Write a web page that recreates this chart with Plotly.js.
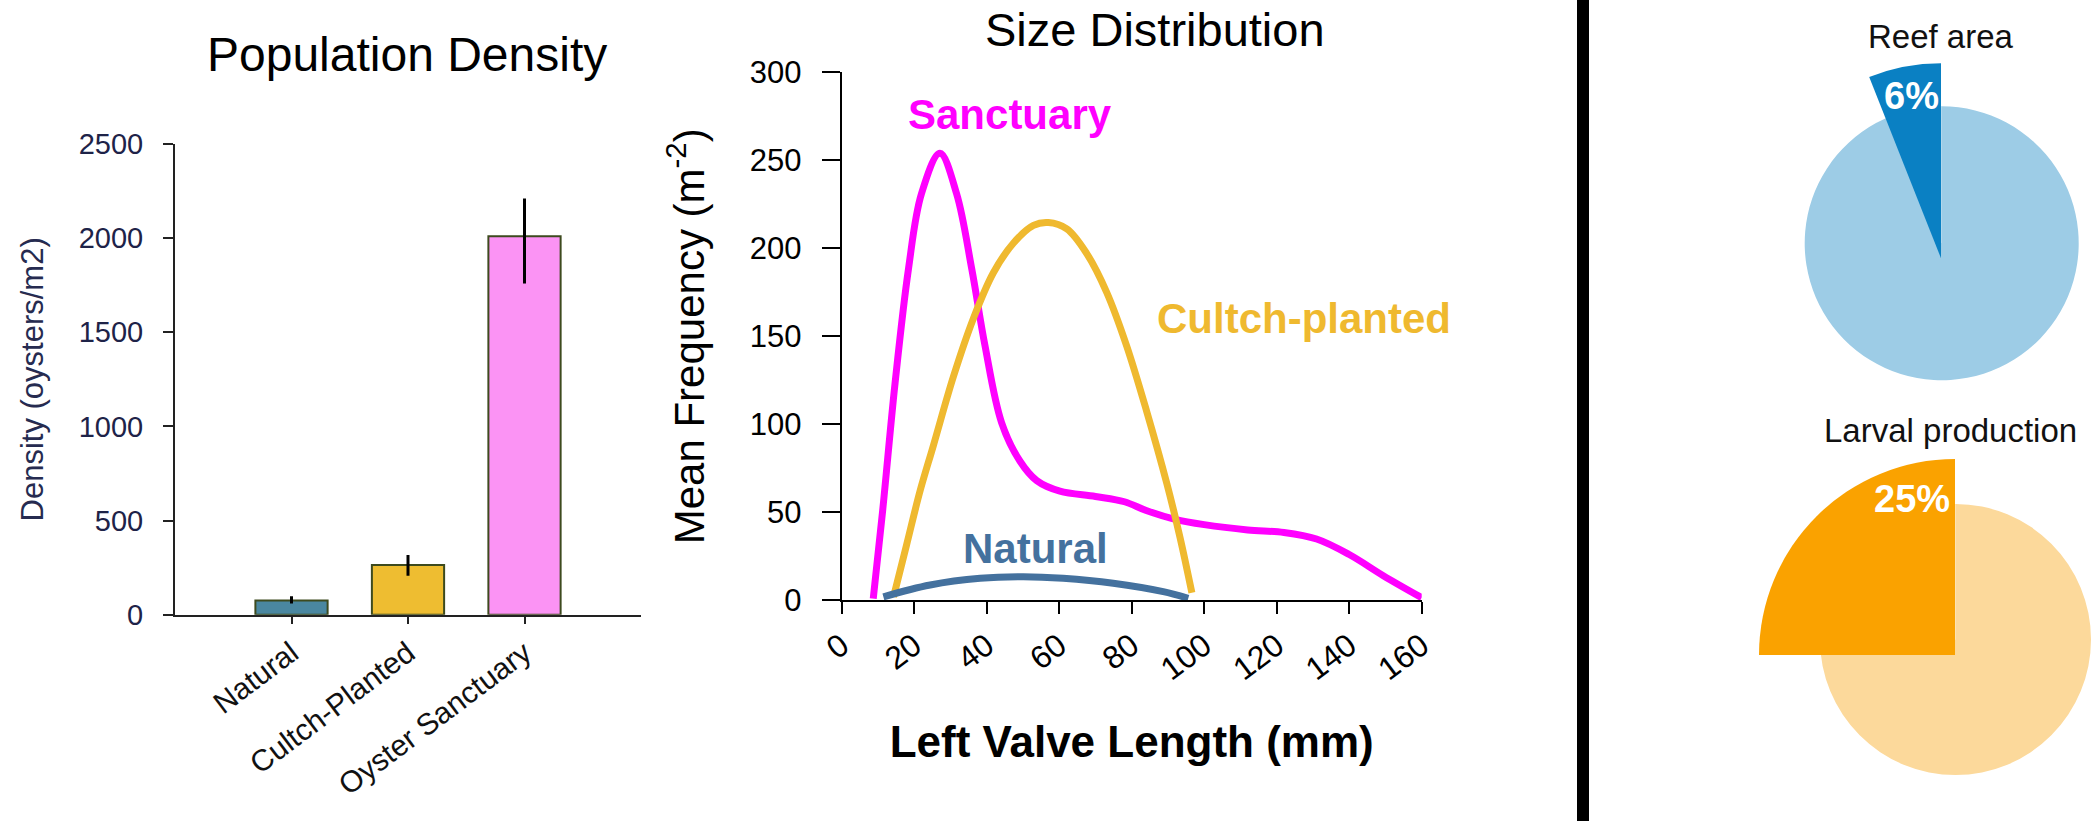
<!DOCTYPE html>
<html>
<head>
<meta charset="utf-8">
<script src="https://cdn.plot.ly/plotly-3.0.1.min.js"></script>
<style>
  html, body { margin: 0; padding: 0; background: #ffffff; overflow: hidden; }
  #wrap { width: 2093px; height: 821px; overflow: hidden; position: relative; background: #ffffff; }
  #chart { width: 2200px; height: 900px; }
</style>
</head>
<body>
<div id="wrap"><div id="chart"></div></div>
<script>
// ---------- data ----------
const categories = ['Natural', 'Cultch-Planted', 'Oyster Sanctuary'];
const density = [76, 264, 2010];
const densityErrPlus = [22, 53, 200];
const densityErrMinus = [16, 57, 251];
const barColors = ['#4a87a0', '#eebd31', '#fb93f4'];

const sanctuaryLength = [8.7, 11.3, 14.7, 18.4, 22, 27.1, 31.7, 35.9, 39.5, 44.1, 49.2, 53.8, 60.2, 70, 78, 84, 92, 100, 112, 122, 131, 140, 149.4, 160];
const sanctuaryFreq   = [1, 51, 123, 188, 231, 254, 231, 188, 145, 101, 79, 68, 62, 59, 56, 51, 46, 43, 40, 38.5, 34.8, 26, 14, 1.5];

const cultchLength = [14.3, 17.9, 21.6, 25.3, 30.8, 36.3, 41.8, 47.4, 52.9, 57, 62.1, 67.6, 73.1, 78.6, 84.1, 89.7, 93.3, 96.6];
const cultchFreq   = [2, 31.5, 62, 88, 127, 160, 186, 203, 213, 214.6, 211, 197, 175, 144.6, 107.6, 66.3, 36, 4.3];

const naturalLength = [11.5, 24.4, 38.2, 50.1, 61.1, 74.9, 88.7, 95.6];
const naturalFreq   = [2, 8.7, 12.5, 13.4, 12.5, 9.7, 4.9, 1.1];

const sizeSeriesNames = ['Sanctuary', 'Cultch-planted', 'Natural'];
const sizeSeriesColors = ['#ff00ff', '#efb92f', '#44719e'];

const pieLabels = ['Sanctuary', 'Other'];
const reefAreaPct = [6, 94];
const larvalPct = [25, 75];

// ---------- geometry helpers (drawn on a 2200x900 canvas, clipped to 2093x821) ----------
const W = 2200, H = 900;
const px = v => v / W;
const py = v => 1 - v / H;

const FONT = 'Arial, "Liberation Sans", Helvetica, sans-serif';

// ---------- traces ----------
const bars = {
  type: 'bar',
  x: categories,
  y: density,
  width: 0.62,
  marker: { color: barColors, line: { color: '#3d4a1e', width: 2 } },
  error_y: { type: 'data', symmetric: false, array: densityErrPlus, arrayminus: densityErrMinus,
             color: '#000000', thickness: 3, width: 0 },
  xaxis: 'x', yaxis: 'y', hoverinfo: 'skip'
};

function curve(xs, ys, i) {
  return {
    type: 'scatter', mode: 'lines', x: xs, y: ys, name: sizeSeriesNames[i],
    line: { color: sizeSeriesColors[i], width: 7, shape: 'spline', smoothing: 1 },
    cliponaxis: false, xaxis: 'x2', yaxis: 'y2', hoverinfo: 'skip'
  };
}

// first slice sits just left of 12 o'clock: rotate back by its own angle
function pie(values, colors, domain) {
  const total = values.reduce((a, b) => a + b, 0);
  return {
    type: 'pie', sort: false, direction: 'clockwise',
    rotation: -360 * values[0] / total,
    values: values, labels: pieLabels,
    marker: { colors: colors, line: { width: 0 } },
    textinfo: 'none', hoverinfo: 'skip', showlegend: false,
    domain: domain
  };
}

const reefBg    = pie(reefAreaPct, ['#9dcce6', '#9dcce6'],        { x: [px(1804.7), px(2078.7)], y: [py(380.3), py(106.3)] });
const reefWedge = pie(reefAreaPct, ['#0a80c3', 'rgba(0,0,0,0)'],  { x: [px(1746), px(2136)],     y: [py(453.3), py(63.3)] });
const larvBg    = pie(larvalPct,   ['#fcd99b', '#fcd99b'],        { x: [px(1820), px(2091)],     y: [py(775), py(504)] });
const larvWedge = pie(larvalPct,   ['#faa200', 'rgba(0,0,0,0)'],  { x: [px(1759), px(2151)],     y: [py(851), py(459)] });

const data = [
  bars,
  curve(sanctuaryLength, sanctuaryFreq, 0),
  curve(cultchLength, cultchFreq, 1),
  curve(naturalLength, naturalFreq, 2),
  reefBg, reefWedge, larvBg, larvWedge
];

// ---------- layout ----------
const axisCommon = {
  showline: true, linewidth: 2, showgrid: false, zeroline: false,
  ticks: 'outside', tickwidth: 2, fixedrange: true
};

const layout = {
  width: W, height: H,
  margin: { l: 0, r: 0, t: 0, b: 0, pad: 0 },
  paper_bgcolor: '#ffffff', plot_bgcolor: 'rgba(0,0,0,0)',
  showlegend: false,
  font: { family: FONT, color: '#000000' },
  xaxis: Object.assign({}, axisCommon, {
    domain: [px(175), px(641)], anchor: 'y', type: 'category', range: [-1, 3],
    linecolor: '#222222', tickcolor: '#222222', ticklen: 7, tickangle: -37,
    tickfont: { family: FONT, size: 30, color: '#111111' }
  }),
  yaxis: Object.assign({}, axisCommon, {
    domain: [py(614.7), py(144)], anchor: 'x', range: [0, 2500], dtick: 500, tick0: 0,
    linecolor: '#222222', tickcolor: '#222222', ticklen: 10, ticklabelstandoff: 14,
    tickfont: { family: FONT, size: 29, color: '#1e2348' },
    title: { text: 'Density (oysters/m2)', font: { family: FONT, size: 31, color: '#262b50' }, standoff: 26 }
  }),
  xaxis2: Object.assign({}, axisCommon, {
    domain: [px(841.7), px(1421.7)], anchor: 'y2', range: [0, 160], dtick: 20, tick0: 0,
    linecolor: '#000000', tickcolor: '#000000', ticklen: 12, tickangle: -37,
    tickfont: { family: FONT, size: 32, color: '#000000' },
    title: { text: '<b>Left Valve Length (mm)</b>', font: { family: FONT, size: 44, color: '#000000' }, standoff: 40 }
  }),
  yaxis2: Object.assign({}, axisCommon, {
    domain: [py(600.3), py(72.3)], anchor: 'x2', range: [0, 300], dtick: 50, tick0: 0,
    linecolor: '#000000', tickcolor: '#000000', ticklen: 18, ticklabelstandoff: 14,
    tickfont: { family: FONT, size: 31, color: '#000000' },
    title: { text: 'Mean Frequency (m<sup>-2</sup>)', font: { family: FONT, size: 42, color: '#000000' }, standoff: 32 }
  }),
  shapes: [
    { type: 'line', xref: 'paper', yref: 'paper', x0: px(1583), x1: px(1583), y0: 0, y1: 1,
      line: { color: '#000000', width: 12 } }
  ],
  annotations: [
    { text: 'Population Density', xref: 'paper', yref: 'paper', x: px(407), y: py(54),
      xanchor: 'center', yanchor: 'middle', showarrow: false, font: { family: FONT, size: 48, color: '#000000' } },
    { text: 'Size Distribution', xref: 'paper', yref: 'paper', x: px(1155), y: py(29),
      xanchor: 'center', yanchor: 'middle', showarrow: false, font: { family: FONT, size: 47, color: '#000000' } },
    { text: '<b>' + sizeSeriesNames[0] + '</b>', xref: 'x2', yref: 'y2', x: 46.4, y: 276,
      xanchor: 'center', yanchor: 'middle', showarrow: false, font: { family: FONT, size: 42, color: sizeSeriesColors[0] } },
    { text: '<b>' + sizeSeriesNames[1] + '</b>', xref: 'x2', yref: 'y2', x: 127.5, y: 160.4,
      xanchor: 'center', yanchor: 'middle', showarrow: false, font: { family: FONT, size: 42, color: sizeSeriesColors[1] } },
    { text: '<b>' + sizeSeriesNames[2] + '</b>', xref: 'x2', yref: 'y2', x: 53.5, y: 29.2,
      xanchor: 'center', yanchor: 'middle', showarrow: false, font: { family: FONT, size: 42, color: sizeSeriesColors[2] } },
    { text: 'Reef area', xref: 'paper', yref: 'paper', x: px(1940.5), y: py(36),
      xanchor: 'center', yanchor: 'middle', showarrow: false, font: { family: FONT, size: 33, color: '#111111' } },
    { text: 'Larval production', xref: 'paper', yref: 'paper', x: px(1950), y: py(430),
      xanchor: 'center', yanchor: 'middle', showarrow: false, font: { family: FONT, size: 33, color: '#111111' } },
    { text: '<b>' + reefAreaPct[0] + '%</b>', xref: 'paper', yref: 'paper', x: px(1911), y: py(96),
      xanchor: 'center', yanchor: 'middle', showarrow: false, font: { family: FONT, size: 38, color: '#ffffff' } },
    { text: '<b>' + larvalPct[0] + '%</b>', xref: 'paper', yref: 'paper', x: px(1911.5), y: py(499),
      xanchor: 'center', yanchor: 'middle', showarrow: false, font: { family: FONT, size: 38, color: '#ffffff' } }
  ]
};

Plotly.newPlot('chart', data, layout, { staticPlot: true, displayModeBar: false });
</script>
</body>
</html>
